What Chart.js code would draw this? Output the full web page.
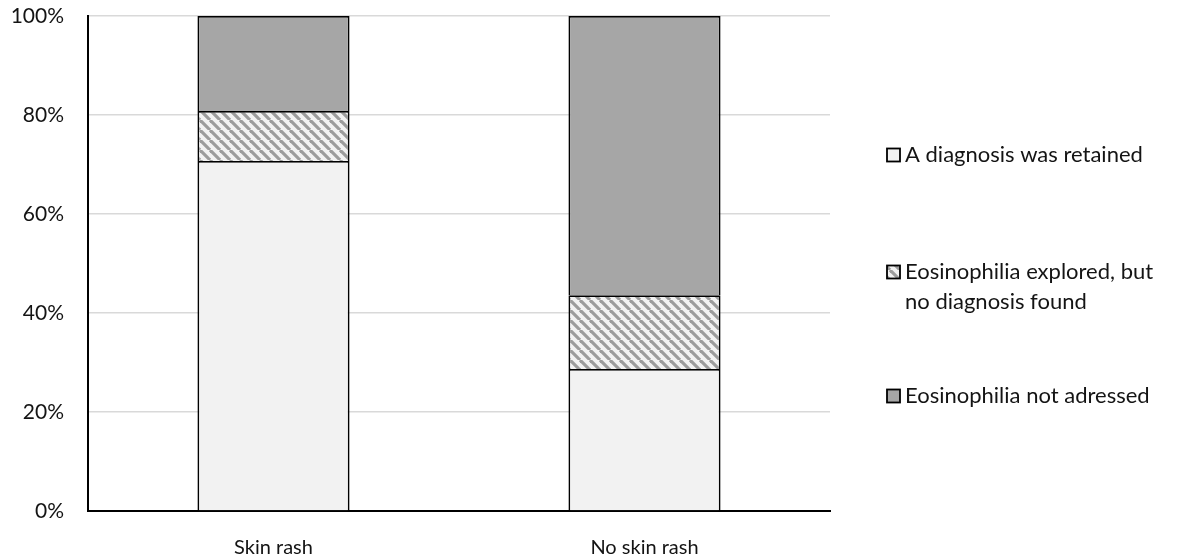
<!DOCTYPE html>
<html>
<head>
<meta charset="utf-8">
<script src="https://cdn.jsdelivr.net/npm/chart.js@4"></script>
<style>
  html, body { margin: 0; padding: 0; background: #fff; overflow: hidden; }
  #wrap { position: relative; width: 1178px; height: 580px; }
</style>
</head>
<body>
<div id="wrap"><canvas id="chart" width="1178" height="580"></canvas></div>
<script>
const categories = ['Skin rash', 'No skin rash'];
const seriesNames = ['A diagnosis was retained', 'Eosinophilia explored, but no diagnosis found', 'Eosinophilia not adressed'];
const retained = [70.7, 28.7];
const explored = [10.1, 14.9];
const notAddressed = [19.2, 56.4];
const yTicks = [0, 20, 40, 60, 80, 100];
const legendLines = [
    ['A diagnosis was retained'],
    ['Eosinophilia explored, but', 'no diagnosis found'],
    ['Eosinophilia not adressed']
];

const canvas = document.getElementById('chart');
const ctx = canvas.getContext('2d');

// diagonal stripes for the middle segment
function makeHatch() {
    const tile = document.createElement('canvas');
    tile.width = 10;
    tile.height = 10;
    const g = tile.getContext('2d');
    g.fillStyle = '#f2f2f2';
    g.fillRect(0, 0, 10, 10);
    g.strokeStyle = '#9c9c9c';
    g.lineWidth = 3.2;
    [-10, 0, 10].forEach(off => {
        g.beginPath();
        g.moveTo(off, 0);
        g.lineTo(off + 10, 10);
        g.stroke();
    });
    return ctx.createPattern(tile, 'repeat');
}

const hatch = makeHatch();
const textColor = '#141414';

const sideLegend = {
    id: 'sideLegend',
    afterDraw(chart) {
        const c = chart.ctx;
        const boxX = 887, box = 13, textX = 905, lineH = 30;
        const rowY = [155, 272, 396];
        c.save();
        c.font = '22px Lato';
        c.textBaseline = 'middle';
        chart.data.datasets.forEach((ds, i) => {
            const y = rowY[i];
            c.fillStyle = ds.backgroundColor;
            c.fillRect(boxX, y - box / 2, box, box);
            c.strokeStyle = '#000';
            c.lineWidth = 1.8;
            c.strokeRect(boxX, y - box / 2, box, box);
            c.fillStyle = textColor;
            legendLines[i].forEach((line, j) => {
                c.fillText(line, textX, y + j * lineH);
            });
        });
        c.restore();
    }
};

new Chart(canvas, {
    type: 'bar',
    data: {
        labels: categories,
        datasets: [
            { label: seriesNames[0], data: retained, backgroundColor: '#f2f2f2' },
            { label: seriesNames[1], data: explored, backgroundColor: hatch },
            { label: seriesNames[2], data: notAddressed, backgroundColor: '#a6a6a6' }
        ].map(ds => Object.assign(ds, {
            borderColor: '#000',
            borderWidth: 1.8,
            categoryPercentage: 1,
            barPercentage: 0.41
        }))
    },
    options: {
        responsive: false,
        animation: false,
        layout: { padding: { top: 16, right: 348, left: 0, bottom: 0 } },
        plugins: {
            legend: { display: false },
            tooltip: { enabled: false }
        },
        scales: {
            x: {
                stacked: true,
                grid: { display: false, drawTicks: false },
                border: { color: '#000', width: 2 },
                ticks: { color: textColor, font: { family: 'Lato', size: 20 }, padding: 25 },
                afterFit: scale => { scale.height = 69; }
            },
            y: {
                stacked: true,
                min: 0,
                max: 100,
                grid: { color: '#d9d9d9', lineWidth: 1.5, drawTicks: false },
                border: { color: '#000', width: 2 },
                ticks: {
                    color: textColor,
                    font: { family: 'Lato', size: 21 },
                    padding: 24,
                    callback: v => v + '%'
                },
                afterBuildTicks: scale => { scale.ticks = yTicks.map(v => ({ value: v })); },
                afterFit: scale => {
                    scale.width = 88;
                    scale.paddingTop = 16;
                    scale.paddingBottom = 0;
                }
            }
        }
    },
    plugins: [sideLegend]
});
</script>
</body>
</html>
